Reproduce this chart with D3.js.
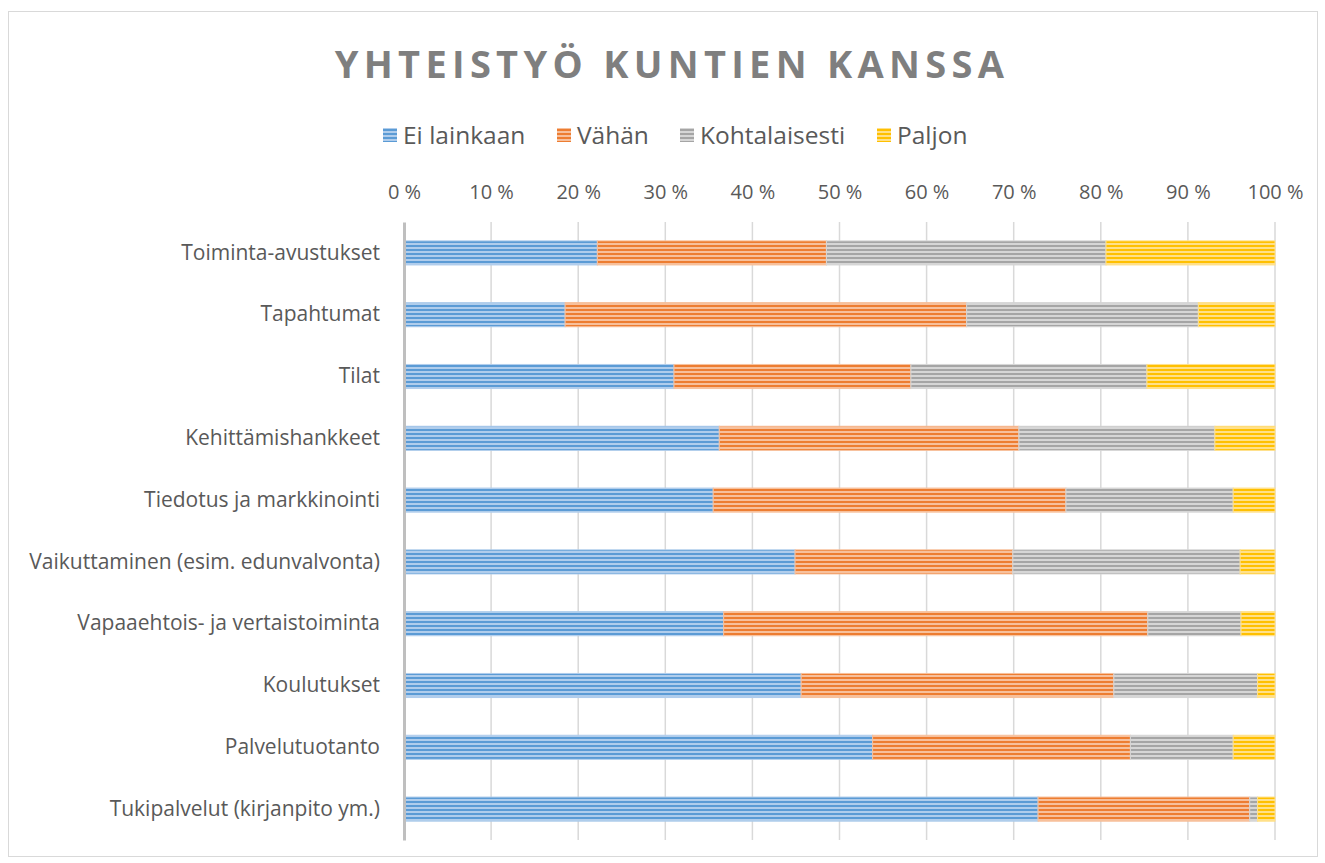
<!DOCTYPE html>
<html>
<head>
<meta charset="utf-8">
<script src="https://cdn.jsdelivr.net/npm/d3@7"></script>
<style>
  body { margin: 0; background: #fff; }
  svg { display: block; font-family: "Open Sans", "Noto Sans", sans-serif; }
</style>
</head>
<body>
<script>
// categories top to bottom
const categories = [
  "Toiminta-avustukset",
  "Tapahtumat",
  "Tilat",
  "Kehittämishankkeet",
  "Tiedotus ja markkinointi",
  "Vaikuttaminen (esim. edunvalvonta)",
  "Vapaaehtois- ja vertaistoiminta",
  "Koulutukset",
  "Palvelutuotanto",
  "Tukipalvelut (kirjanpito ym.)"
];

// shares in percent
const eiLainkaan    = [22.2, 18.5, 31.0, 36.2, 35.5, 44.9, 36.7, 45.6, 53.8, 72.8];
const vahan         = [26.3, 46.1, 27.2, 34.4, 40.5, 25.0, 48.7, 35.9, 29.6, 24.3];
const kohtalaisesti = [32.1, 26.6, 27.1, 22.5, 19.2, 26.1, 10.7, 16.5, 11.8, 0.9];
const paljon        = [19.4, 8.8, 14.7, 6.9, 4.8, 4.0, 3.9, 2.0, 4.8, 2.0];

const seriesNames = ["Ei lainkaan", "Vähän", "Kohtalaisesti", "Paljon"];
const xTicks = [0, 10, 20, 30, 40, 50, 60, 70, 80, 90, 100];

const colors = {
  "Ei lainkaan":   ["#5b9bd5", "#b0cdec"],
  "Vähän":         ["#ed7d31", "#f7c09c"],
  "Kohtalaisesti": ["#a5a5a5", "#d6d6d6"],
  "Paljon":        ["#ffc000", "#ffe08a"]
};

const FONT = '"Open Sans", "Noto Sans", sans-serif';
const W = 1325, H = 863;
const svg = d3.select("body").append("svg").attr("width", W).attr("height", H);

// chart border
svg.append("rect")
  .attr("x", 8.5).attr("y", 11.5)
  .attr("width", 1309).attr("height", 845)
  .attr("fill", "#fff").attr("stroke", "#d9d9d9").attr("stroke-width", 1);

// striped patterns
const defs = svg.append("defs");
seriesNames.forEach((s, i) => {
  const p = defs.append("pattern")
    .attr("id", "pat" + i)
    .attr("patternUnits", "userSpaceOnUse")
    .attr("width", 4).attr("height", 4);
  p.append("rect").attr("width", 4).attr("height", 4).attr("fill", colors[s][1]);
  p.append("rect").attr("y", 1).attr("width", 4).attr("height", 2).attr("fill", colors[s][0]);
});

// title
svg.append("text")
  .attr("x", 672).attr("y", 78)
  .attr("text-anchor", "middle")
  .attr("font-size", 38).attr("font-weight", "bold")
  .attr("letter-spacing", 5.3)
  .attr("fill", "#7f7f7f")
  .text("YHTEISTYÖ KUNTIEN KANSSA");

// legend
const legendX = [383, 557, 680, 877];
const legend = svg.append("g");
seriesNames.forEach((s, i) => {
  const g = legend.append("g").attr("transform", `translate(${legendX[i]},128)`);
  g.append("rect").attr("width", 14).attr("height", 14).attr("fill", `url(#pat${i})`);
  g.append("text").attr("x", 20).attr("y", 7).attr("dy", "0.35em")
    .attr("font-size", 24.5).attr("fill", "#595959").text(s);
});

// scales
const x = d3.scaleLinear().domain([0, 100]).range([404, 1275]);
const y = d3.scaleBand().domain(categories).range([222, 840])
  .paddingInner(0.61).paddingOuter(0.305);

// gridlines
svg.append("g").selectAll("line").data(xTicks.slice(1)).join("line")
  .attr("x1", d => x(d)).attr("x2", d => x(d))
  .attr("y1", 222).attr("y2", 840)
  .attr("stroke", "#d9d9d9").attr("stroke-width", 1.5);

// x axis on top
const xAxis = svg.append("g").attr("transform", "translate(0,192)")
  .call(d3.axisTop(x).tickValues(xTicks).tickSize(0).tickFormat(d => d + "\u00a0%"))
  .attr("font-family", FONT).attr("font-size", 20);
xAxis.select(".domain").remove();
xAxis.selectAll("text").attr("fill", "#595959").attr("dy", "0.35em").attr("y", 0);

// stacked bars
const rows = categories.map((c, i) => ({
  cat: c,
  "Ei lainkaan": eiLainkaan[i],
  "Vähän": vahan[i],
  "Kohtalaisesti": kohtalaisesti[i],
  "Paljon": paljon[i]
}));
const stacked = d3.stack().keys(seriesNames)(rows);

svg.append("g").selectAll("g").data(stacked).join("g")
  .attr("fill", (d, i) => `url(#pat${i})`)
  .attr("stroke", d => colors[d.key][1])
  .attr("stroke-width", 1)
  .selectAll("rect").data(d => d).join("rect")
  .attr("x", d => x(d[0]))
  .attr("y", d => y(d.data.cat))
  .attr("width", d => x(d[1]) - x(d[0]))
  .attr("height", y.bandwidth());

// category axis
const yAxis = svg.append("g").attr("transform", "translate(404,0)")
  .call(d3.axisLeft(y).tickSize(0).tickPadding(24))
  .attr("font-family", FONT).attr("font-size", 21);
yAxis.select(".domain").attr("stroke", "#bfbfbf").attr("stroke-width", 3);
yAxis.selectAll("text").attr("fill", "#595959");
</script>
</body>
</html>
